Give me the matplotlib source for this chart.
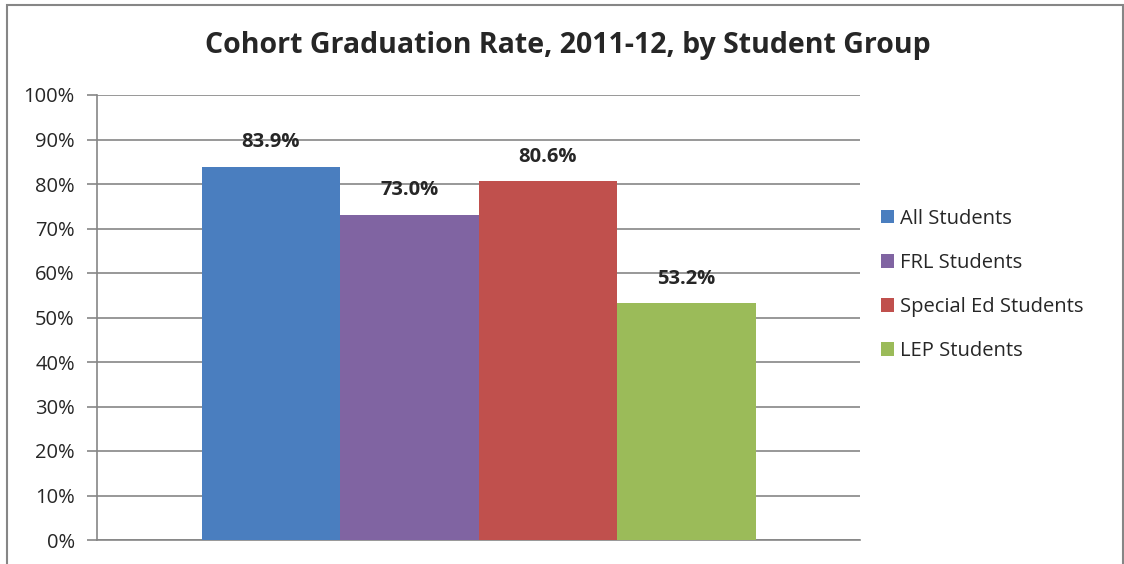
import matplotlib.pyplot as plt
from matplotlib.patches import Patch, Rectangle

groups = ["All Students", "FRL Students", "Special Ed Students", "LEP Students"]
rates = [83.9, 73.0, 80.6, 53.2]
colors = ["#4A7EBF", "#8064A2", "#C0504D", "#9BBB59"]
yticks = list(range(0, 101, 10))
tick_labels = [f"{t}%" for t in yticks]

plt.rcParams["font.family"] = ["Open Sans", "DejaVu Sans"]
GRID = "#868686"

fig = plt.figure(figsize=(11.24, 5.64), dpi=100)
ax = fig.add_axes([97 / 1124, 24 / 564, 763 / 1124, 445 / 564])

w = 554 / 763 / 4
for i, (g, v, c) in enumerate(zip(groups, rates, colors)):
    x = (i - 1.5) * w
    ax.bar(x, v, w, color=c, zorder=3, label=g)
    ax.text(x, v + 3.3, f"{v:.1f}%", ha="center", va="bottom",
            fontsize=14.5, fontweight="bold", color="#262626")

ax.set_xlim(-0.5, 0.5)
ax.set_ylim(0, 100)
ax.set_yticks(yticks)
ax.set_yticklabels(tick_labels, fontsize=14.5, color="#262626")
ax.set_xticks([])
ax.yaxis.grid(True, color=GRID, lw=1.2, zorder=0)
ax.tick_params(axis="y", length=7, color=GRID, width=1.2, pad=9)
for s in ["top", "right"]:
    ax.spines[s].set_visible(False)
ax.spines["left"].set_color(GRID)
ax.spines["left"].set_linewidth(1.2)
ax.spines["bottom"].set_color(GRID)
ax.spines["bottom"].set_linewidth(1.2)

fig.text(0.505, 1 - 46 / 564, "Cohort Graduation Rate, 2011-12, by Student Group",
         ha="center", va="center", fontsize=20.5, fontweight="bold", color="#262626")

handles = [Patch(facecolor=c, label=g) for g, c in zip(groups, colors)]
fig.legend(handles=handles, loc="center left", bbox_to_anchor=(863 / 1124, 1 - 285 / 564),
           frameon=False, fontsize=14.5, handlelength=0.65, handleheight=0.65,
           handletextpad=0.3, labelspacing=1.2, labelcolor="#262626")

fig.patches.append(Rectangle((7 / 1124, -0.1), (1123 - 7) / 1124, 1.1 - 5 / 564,
                             transform=fig.transFigure, fill=False,
                             edgecolor=GRID, lw=1.5))

fig.savefig("out.png", dpi=100)
